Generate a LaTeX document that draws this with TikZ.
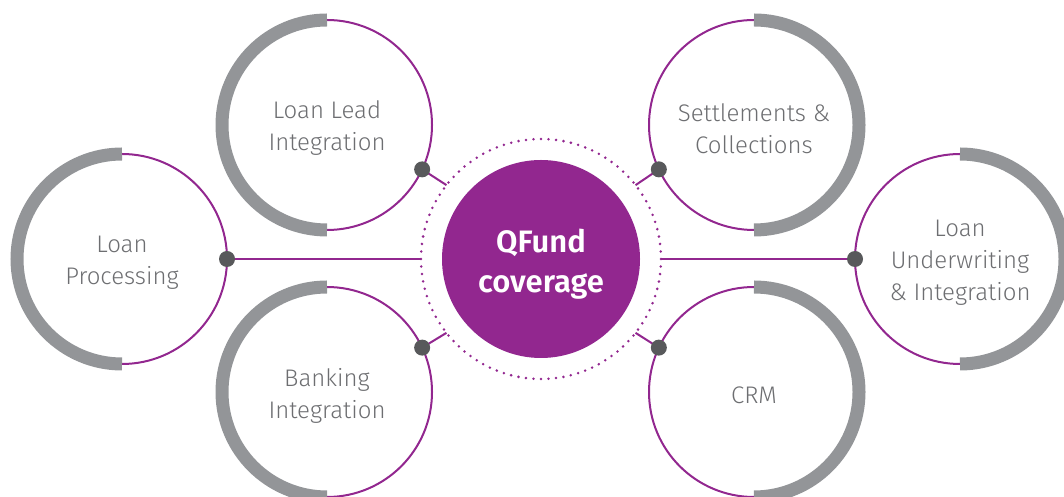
\documentclass[tikz,border=0pt]{standalone}
\usepackage{fontspec}
\setmainfont{Fira Sans}[UprightFont={* Light}, BoldFont={* SemiBold}]
\definecolor{qpurple}{HTML}{92278F}
\definecolor{qgray}{HTML}{939598}
\definecolor{qdot}{HTML}{58595B}
\definecolor{qtext}{HTML}{6D6E71}
\begin{document}
\begin{tikzpicture}[x=1pt,y=1pt,
 outer/.style={circle, draw=qpurple, line width=2pt, minimum size=210pt, inner sep=0pt, outer sep=0pt},
 lbl/.style={text=qtext, align=center, inner sep=0pt, yshift=-3.5pt, font=\fontsize{24}{32}\selectfont},
 grayarc/.style={draw=qgray, line width=13pt},
 hub/.style={circle, fill=qpurple, minimum size=198pt, inner sep=0pt},
 hublbl/.style={text=white, align=center, inner sep=0pt, yshift=-5pt, font=\fontsize{31}{40}\selectfont\bfseries},
 ring/.style={circle, draw=qpurple, line width=2.8pt, dash pattern=on 0pt off 7.54pt, line cap=round, minimum size=240pt, inner sep=0pt, outer sep=0pt},
 link/.style={draw=qpurple, line width=2pt},
 joint/.style={circle, fill=qdot, minimum size=16pt, inner sep=0pt}]
\useasboundingbox (0,0) rectangle (1064,497);
\clip (0,0) rectangle (1064,497);
% hub
\node[ring] (R) at (541,238) {};
\node[hub] (C) at (541,238) {};
\node[hublbl] (tC) at (C) {QFund\\coverage};
% outer circles
\node[outer] (LP) at (122,238) {};
\node[outer] (LL) at (327,372) {};
\node[outer] (BI) at (327,105) {};
\node[outer] (SC) at (754,372) {};
\node[outer] (CRM) at (754,105) {};
\node[outer] (LU) at (960,238) {};
% labels
\node[lbl] (tLP) at (LP) {Loan\\Processing};
\node[lbl] (tLL) at (LL) {Loan Lead\\Integration};
\node[lbl] (tBI) at (BI) {Banking\\Integration};
\node[lbl] (tSC) at (SC) {Settlements \&\\Collections};
\node[lbl] (tCRM) at (CRM) {CRM};
\node[lbl] (tLU) at (LU) {Loan\\Underwriting\\\& Integration};
% gray arcs
\draw[grayarc] (LP.north) arc[start angle=90, end angle=270, radius=105];
\draw[grayarc] (LL.north) arc[start angle=90, end angle=270, radius=105];
\draw[grayarc] (BI.north) arc[start angle=90, end angle=270, radius=105];
\draw[grayarc] (SC.south) arc[start angle=-90, end angle=90, radius=105];
\draw[grayarc] (CRM.south) arc[start angle=-90, end angle=90, radius=105];
\draw[grayarc] (LU.south) arc[start angle=-90, end angle=90, radius=105];
% links
\draw[link] (LP.east) -- (R.180);
\draw[link] (LU.west) -- (R.0);
\draw[link] (LL.-25) -- (R.142);
\draw[link] (BI.25) -- (R.218);
\draw[link] (SC.-155) -- (R.38);
\draw[link] (CRM.155) -- (R.-38);
% joints
\node[joint] (jLP) at (LP.east) {};
\node[joint] (jLU) at (LU.west) {};
\node[joint] (jLL) at (LL.-25) {};
\node[joint] (jBI) at (BI.25) {};
\node[joint] (jSC) at (SC.-155) {};
\node[joint] (jCRM) at (CRM.155) {};
\end{tikzpicture}
\end{document}
